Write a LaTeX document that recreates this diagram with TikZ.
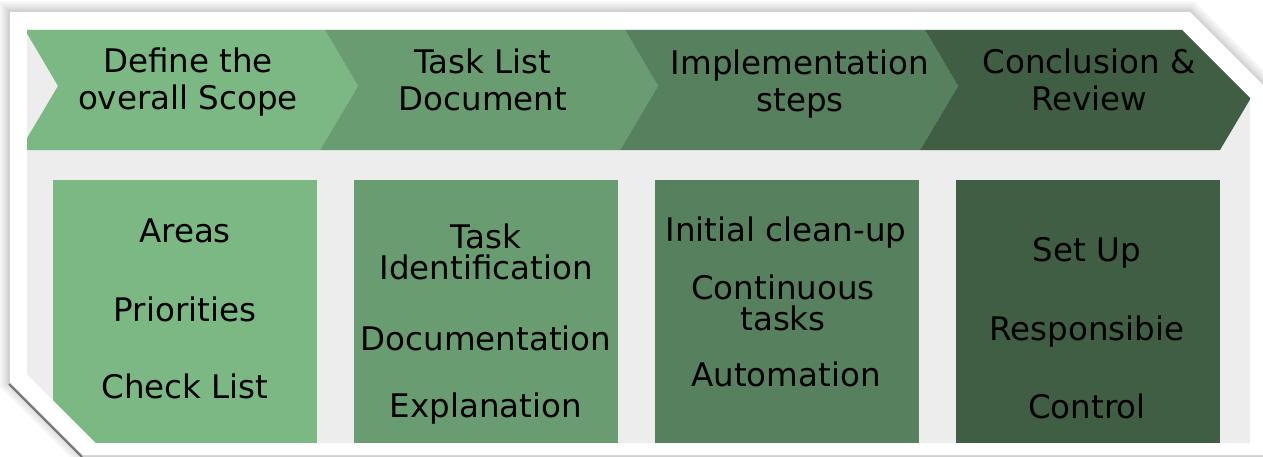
\documentclass[tikz,border=0pt]{standalone}
\usepackage{fontspec}
\setmainfont{DejaVu Sans}

\definecolor{stepA}{HTML}{7BB884}
\definecolor{stepB}{HTML}{699D71}
\definecolor{stepC}{HTML}{57805E}
\definecolor{stepD}{HTML}{3F5E44}
\definecolor{bgGray}{HTML}{EDEDED}

\tikzset{steptext/.style={font=\fontsize{18.5}{21}\selectfont, text=black, align=center, inner sep=0pt}}

\begin{document}
\begin{tikzpicture}[x=0.02cm,y=-0.02cm] % pixel grid, y downwards
		\useasboundingbox (0,0) rectangle (1263,456);
		
		% soft shadow round the panel
		\foreach \w in {12,9,6,4,2}
			\draw[black,opacity=0.04,line width=\w pt] (10,12) -- (1190,12) -- (1272,94) -- (1272,455) -- (83,455) -- (10,382) -- cycle;
		\draw[black!55,line width=1.2pt] (9,384) -- (82,457);	% dark edge bottom left
		
		\fill[white] (10,12) -- (1190,12) -- (1272,94) -- (1272,455) -- (83,455) -- (10,382) -- cycle;	% panel
		\fill[bgGray] (27,30) -- (1182,30) -- (1250,98) -- (1250,443) -- (96,443) -- (27,374) -- cycle;	% inner area
		
		\begin{scope}
		\clip (27,30) -- (1182,30) -- (1250,98) -- (1250,443) -- (96,443) -- (27,374) -- cycle;
		
		% chevrons
		\foreach \k/\c in {0/stepA,1/stepB,2/stepC,3/stepD}
			\fill[\c] (25+300*\k,30) -- (325+300*\k,30) -- (358+300*\k,86) -- (320+300*\k,150) -- (20+300*\k,150) -- (58+300*\k,86) -- cycle;
		
		% boxes
		\foreach \k/\c in {0/stepA,1/stepB,2/stepC,3/stepD}
			\fill[\c] (53+301*\k,180) rectangle (317+301*\k,443);
		\end{scope}
		
		% chevron texts
		\node[steptext] (scope) at (188,82) {Define the\\overall Scope};
		\node[steptext] (tasklist) at (483,80) {Task List\\Document};
		\node[steptext] (implement) at (800,84) {Implementation\\steps};
		\node[steptext] (review) at (1089,80) {Conclusion \&\\Review};
		
		% box texts
		\node[steptext] (areas) at (185,231) {Areas};
		\node[steptext] (priorities) at (185,309) {Priorities};
		\node[steptext] (checklist) at (185,386) {Check List};
		
		\node[steptext] (identify) at (486,252) {Task\\[-3pt]Identification};
		\node[steptext] (document) at (486,338) {Documentation};
		\node[steptext] (explain) at (486,409) {Explanation};
		
		\node[steptext] (cleanup) at (786,233) {Initial clean-up};
		\node[steptext] (continuous) at (783,303) {Continuous\\[-3pt]tasks};
		\node[steptext] (automation) at (786,374) {Automation};
		
		\node[steptext] (setup) at (1087,253) {Set Up};
		\node[steptext] (responsible) at (1087,332) {Responsibie};
		\node[steptext] (control) at (1087,406) {Control};
\end{tikzpicture}
\end{document}
